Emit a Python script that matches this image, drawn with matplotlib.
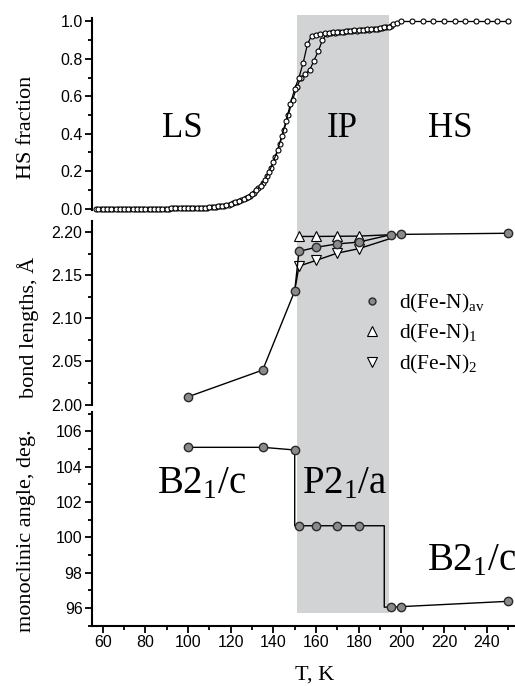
import matplotlib
matplotlib.use("Agg")
import matplotlib.pyplot as plt
from matplotlib.ticker import MultipleLocator, FormatStrFormatter
from matplotlib.lines import Line2D

plt.rcParams['font.family'] = ['Liberation Sans', 'DejaVu Sans']
plt.rcParams['mathtext.fontset'] = 'custom'
plt.rcParams['mathtext.rm'] = 'Liberation Serif'
plt.rcParams['mathtext.it'] = 'Liberation Serif:italic'

# ---------------- data ----------------
# HS fraction, cooling branch
hs_T_a = [58, 60, 62, 64, 66, 68, 70, 72, 74, 76, 78, 80, 82, 84, 86, 88, 90, 92, 94, 96,
          98, 100, 102, 104, 106, 108, 110, 112, 114, 116, 118, 120, 122, 124, 126, 128,
          130, 132, 134, 136, 138, 140, 142, 144, 146, 148, 150, 152, 154, 156, 158, 160,
          162, 164, 166, 168, 170, 172, 174, 176, 178, 180, 182, 184, 186, 188, 190, 192,
          194, 196, 198, 200, 205, 210, 215, 220, 225, 230, 235, 240, 245, 250]
hs_a = [0.000, 0.000, 0.000, 0.000, 0.000, 0.000, 0.000, 0.000, 0.000, 0.000, 0.000, 0.000,
        0.000, 0.000, 0.000, 0.000, 0.000, 0.001, 0.001, 0.001, 0.001, 0.002, 0.002, 0.003,
        0.004, 0.005, 0.007, 0.009, 0.012, 0.015, 0.020, 0.026, 0.033, 0.041, 0.051, 0.064,
        0.080, 0.098, 0.122, 0.155, 0.197, 0.250, 0.315, 0.390, 0.470, 0.560, 0.640, 0.700,
        0.780, 0.880, 0.925, 0.930, 0.934, 0.937, 0.940, 0.942, 0.944, 0.946, 0.948, 0.950,
        0.952, 0.954, 0.956, 0.958, 0.960, 0.962, 0.965, 0.968, 0.973, 0.985, 0.993, 1.000,
        1.000, 1.000, 1.000, 1.000, 1.000, 1.000, 1.000, 1.000, 1.000, 1.000]
# HS fraction, heating branch
hs_T_b = [57, 59, 61, 63, 65, 67, 69, 71, 73, 75, 77, 79, 81, 83, 85, 87, 89, 91, 93, 95,
          97, 99, 101, 103, 105, 107, 109, 111, 113, 115, 117, 119, 121, 123, 125, 127,
          129, 131, 133, 135, 137, 139, 141, 143, 145, 147, 149, 151, 153, 155, 157, 159,
          161, 163, 165, 167, 169, 171, 173, 175, 177, 179, 181, 183, 185, 187, 189, 191,
          193, 195]
hs_b = [0.000, 0.000, 0.000, 0.000, 0.000, 0.000, 0.000, 0.000, 0.000, 0.000, 0.000, 0.000,
        0.000, 0.000, 0.000, 0.000, 0.000, 0.000, 0.001, 0.001, 0.001, 0.002, 0.002, 0.003,
        0.003, 0.004, 0.005, 0.007, 0.009, 0.012, 0.016, 0.021, 0.027, 0.034, 0.043, 0.054,
        0.068, 0.085, 0.107, 0.135, 0.172, 0.218, 0.275, 0.345, 0.420, 0.500, 0.580, 0.650,
        0.700, 0.720, 0.740, 0.790, 0.840, 0.900, 0.933, 0.938, 0.941, 0.943, 0.945, 0.947,
        0.949, 0.951, 0.953, 0.955, 0.957, 0.959, 0.961, 0.964, 0.968, 0.976]

# bond lengths
bond_T = [100, 135, 150, 152, 160, 170, 180, 195, 200, 250]
d_av = [2.009, 2.040, 2.1315, 2.1775, 2.1822, 2.1862, 2.1882, 2.1968, 2.1972, 2.1985]
d1_T = [152, 160, 170, 180, 195]
d1 = [2.1948, 2.1948, 2.1950, 2.1952, 2.1968]
d2_T = [150, 152, 160, 170, 180, 195]
d2 = [2.1315, 2.1604, 2.1670, 2.1755, 2.1806, 2.1925]

# monoclinic angle
angle_T = [100, 135, 150, 152, 160, 170, 180, 195, 200, 250]
angle = [105.1, 105.1, 104.95, 100.66, 100.66, 100.66, 100.66, 96.05, 96.08, 96.38]
angle_line_T = [100, 135, 150, 150, 152, 160, 170, 180, 192, 192, 195, 200, 250]
angle_line = [105.1, 105.1, 104.95, 100.66, 100.66, 100.66, 100.66, 100.66, 100.66,
              96.05, 96.05, 96.08, 96.38]

ip_range = [151, 194]
x_ticks_major = 20
legend_labels = [r'd(Fe-N)$_{\mathrm{av}}$', r'd(Fe-N)$_{\mathrm{1}}$', r'd(Fe-N)$_{\mathrm{2}}$']

# ---------------- layout ----------------
W, H = 515, 686
fig = plt.figure(figsize=(W / 100, H / 100), dpi=100)

def rect(x0, y0, x1, y1):
    return [x0 / W, 1 - y1 / H, (x1 - x0) / W, (y1 - y0) / H]

XL, XR = 92.3, 515
XLIM = (55.1, 253.3)
GRAY = '#d2d3d5'
SERIF = 'Liberation Serif'
CIRC_FC = '#8a8a8a'
CIRC_EC = '#2a2a2a'

ax_bg = fig.add_axes(rect(XL, 15, XR, 612.7))
ax_bg.axvspan(ip_range[0], ip_range[1], color=GRAY, lw=0)
ax_bg.set_xlim(*XLIM)
ax_bg.axis('off')

ax1 = fig.add_axes(rect(XL, 18, XR, 210))
ax2 = fig.add_axes(rect(XL, 221, XR, 405))
ax3 = fig.add_axes(rect(XL, 412, XR, 625.7))

for ax in (ax1, ax2, ax3):
    ax.patch.set_visible(False)
    ax.set_xlim(*XLIM)
    for s in ('top', 'right'):
        ax.spines[s].set_visible(False)
    ax.spines['left'].set_linewidth(1.5)
    ax.spines['bottom'].set_linewidth(1.5)
    ax.tick_params(which='both', direction='out', width=1.3, labelsize=11.5, pad=2)
    ax.tick_params(which='major', length=5)
    ax.tick_params(which='minor', length=3)
    ax.xaxis.set_major_locator(MultipleLocator(x_ticks_major))
    ax.xaxis.set_minor_locator(MultipleLocator(10))

for ax in (ax1, ax2):
    ax.spines['bottom'].set_visible(False)
    ax.tick_params(axis='x', which='both', bottom=False, labelbottom=False)

# top panel
ax1.set_ylim(-0.008, 1.0187)
ax1.yaxis.set_major_locator(MultipleLocator(0.2))
ax1.yaxis.set_minor_locator(MultipleLocator(0.1))
ax1.yaxis.set_major_formatter(FormatStrFormatter('%.1f'))
ax1.plot(hs_T_b, hs_b, '-o', color='black', lw=0.9, ms=3.6, mfc='white', mec='black',
         mew=0.8, clip_on=False)
ax1.plot(hs_T_a, hs_a, '-o', color='black', lw=0.9, ms=3.6, mfc='white', mec='black',
         mew=0.8, clip_on=False)

# middle panel
ax2.set_ylim(1.9995, 2.2127)
ax2.yaxis.set_major_locator(MultipleLocator(0.05))
ax2.yaxis.set_minor_locator(MultipleLocator(0.025))
ax2.yaxis.set_major_formatter(FormatStrFormatter('%.2f'))
ax2.plot(d1_T, d1, '-^', color='black', lw=1.0, ms=7, mfc='white', mec='black', mew=0.8,
         markevery=[0, 1, 2, 3], clip_on=False)
ax2.plot(d2_T, d2, '-v', color='black', lw=1.0, ms=7, mfc='white', mec='black', mew=0.8,
         markevery=[1, 2, 3, 4], clip_on=False)
ax2.plot(bond_T, d_av, '-o', color='black', lw=1.0, ms=6, mfc=CIRC_FC, mec=CIRC_EC, mew=1.0,
         clip_on=False, zorder=4)

handles = [
    Line2D([], [], ls='none', marker='o', ms=5, mfc=CIRC_FC, mec=CIRC_EC, mew=1.0),
    Line2D([], [], ls='none', marker='^', ms=6.5, mfc='white', mec='black', mew=0.8),
    Line2D([], [], ls='none', marker='v', ms=6.5, mfc='white', mec='black', mew=0.8),
]
ax2.legend(handles, legend_labels, loc='upper left', bbox_to_anchor=(0.636, 0.615),
           frameon=False, borderaxespad=0, borderpad=0, handlelength=1.0,
           handletextpad=0.75, labelspacing=0.35, prop={'family': SERIF, 'size': 15.5})

# bottom panel
ax3.set_ylim(95.0, 107.1)
ax3.yaxis.set_major_locator(MultipleLocator(2))
ax3.yaxis.set_minor_locator(MultipleLocator(1))
ax3.yaxis.set_major_formatter(FormatStrFormatter('%d'))
ax3.plot(angle_line_T, angle_line, '-', color='black', lw=1.0, clip_on=False)
ax3.plot(angle_T, angle, 'o', ms=6, mfc=CIRC_FC, mec=CIRC_EC, mew=1.0, clip_on=False, zorder=4)
ax3.set_xticks([60, 80, 100, 120, 140, 160, 180, 200, 220, 240])

# texts
def ftext(x, y, s, **kw):
    fig.text(x / W, 1 - y / H, s, **kw)

ftext(27, 127.5, 'HS fraction', rotation=90, ha='center', va='center', family=SERIF, size=16)
ftext(28, 327, 'bond lengths, Å', rotation=90, ha='center', va='center', family=SERIF, size=16)
ftext(27, 531, 'monoclinic angle, deg.', rotation=90, ha='center', va='center', family=SERIF, size=16)
ftext(315, 675, 'T, K', ha='center', va='center', family=SERIF, size=16)

ftext(182, 137, 'LS', ha='center', va='baseline', family=SERIF, size=25)
ftext(342, 137, 'IP', ha='center', va='baseline', family=SERIF, size=25)
ftext(450, 137, 'HS', ha='center', va='baseline', family=SERIF, size=25)

ftext(156.7, 493, r'B2$_{\mathrm{1}}$/c', ha='left', va='baseline', family=SERIF, size=28)
ftext(301.7, 493, r'P2$_{\mathrm{1}}$/a', ha='left', va='baseline', family=SERIF, size=28)
ftext(426.7, 570, r'B2$_{\mathrm{1}}$/c', ha='left', va='baseline', family=SERIF, size=28)

fig.savefig('out.png', dpi=100)
